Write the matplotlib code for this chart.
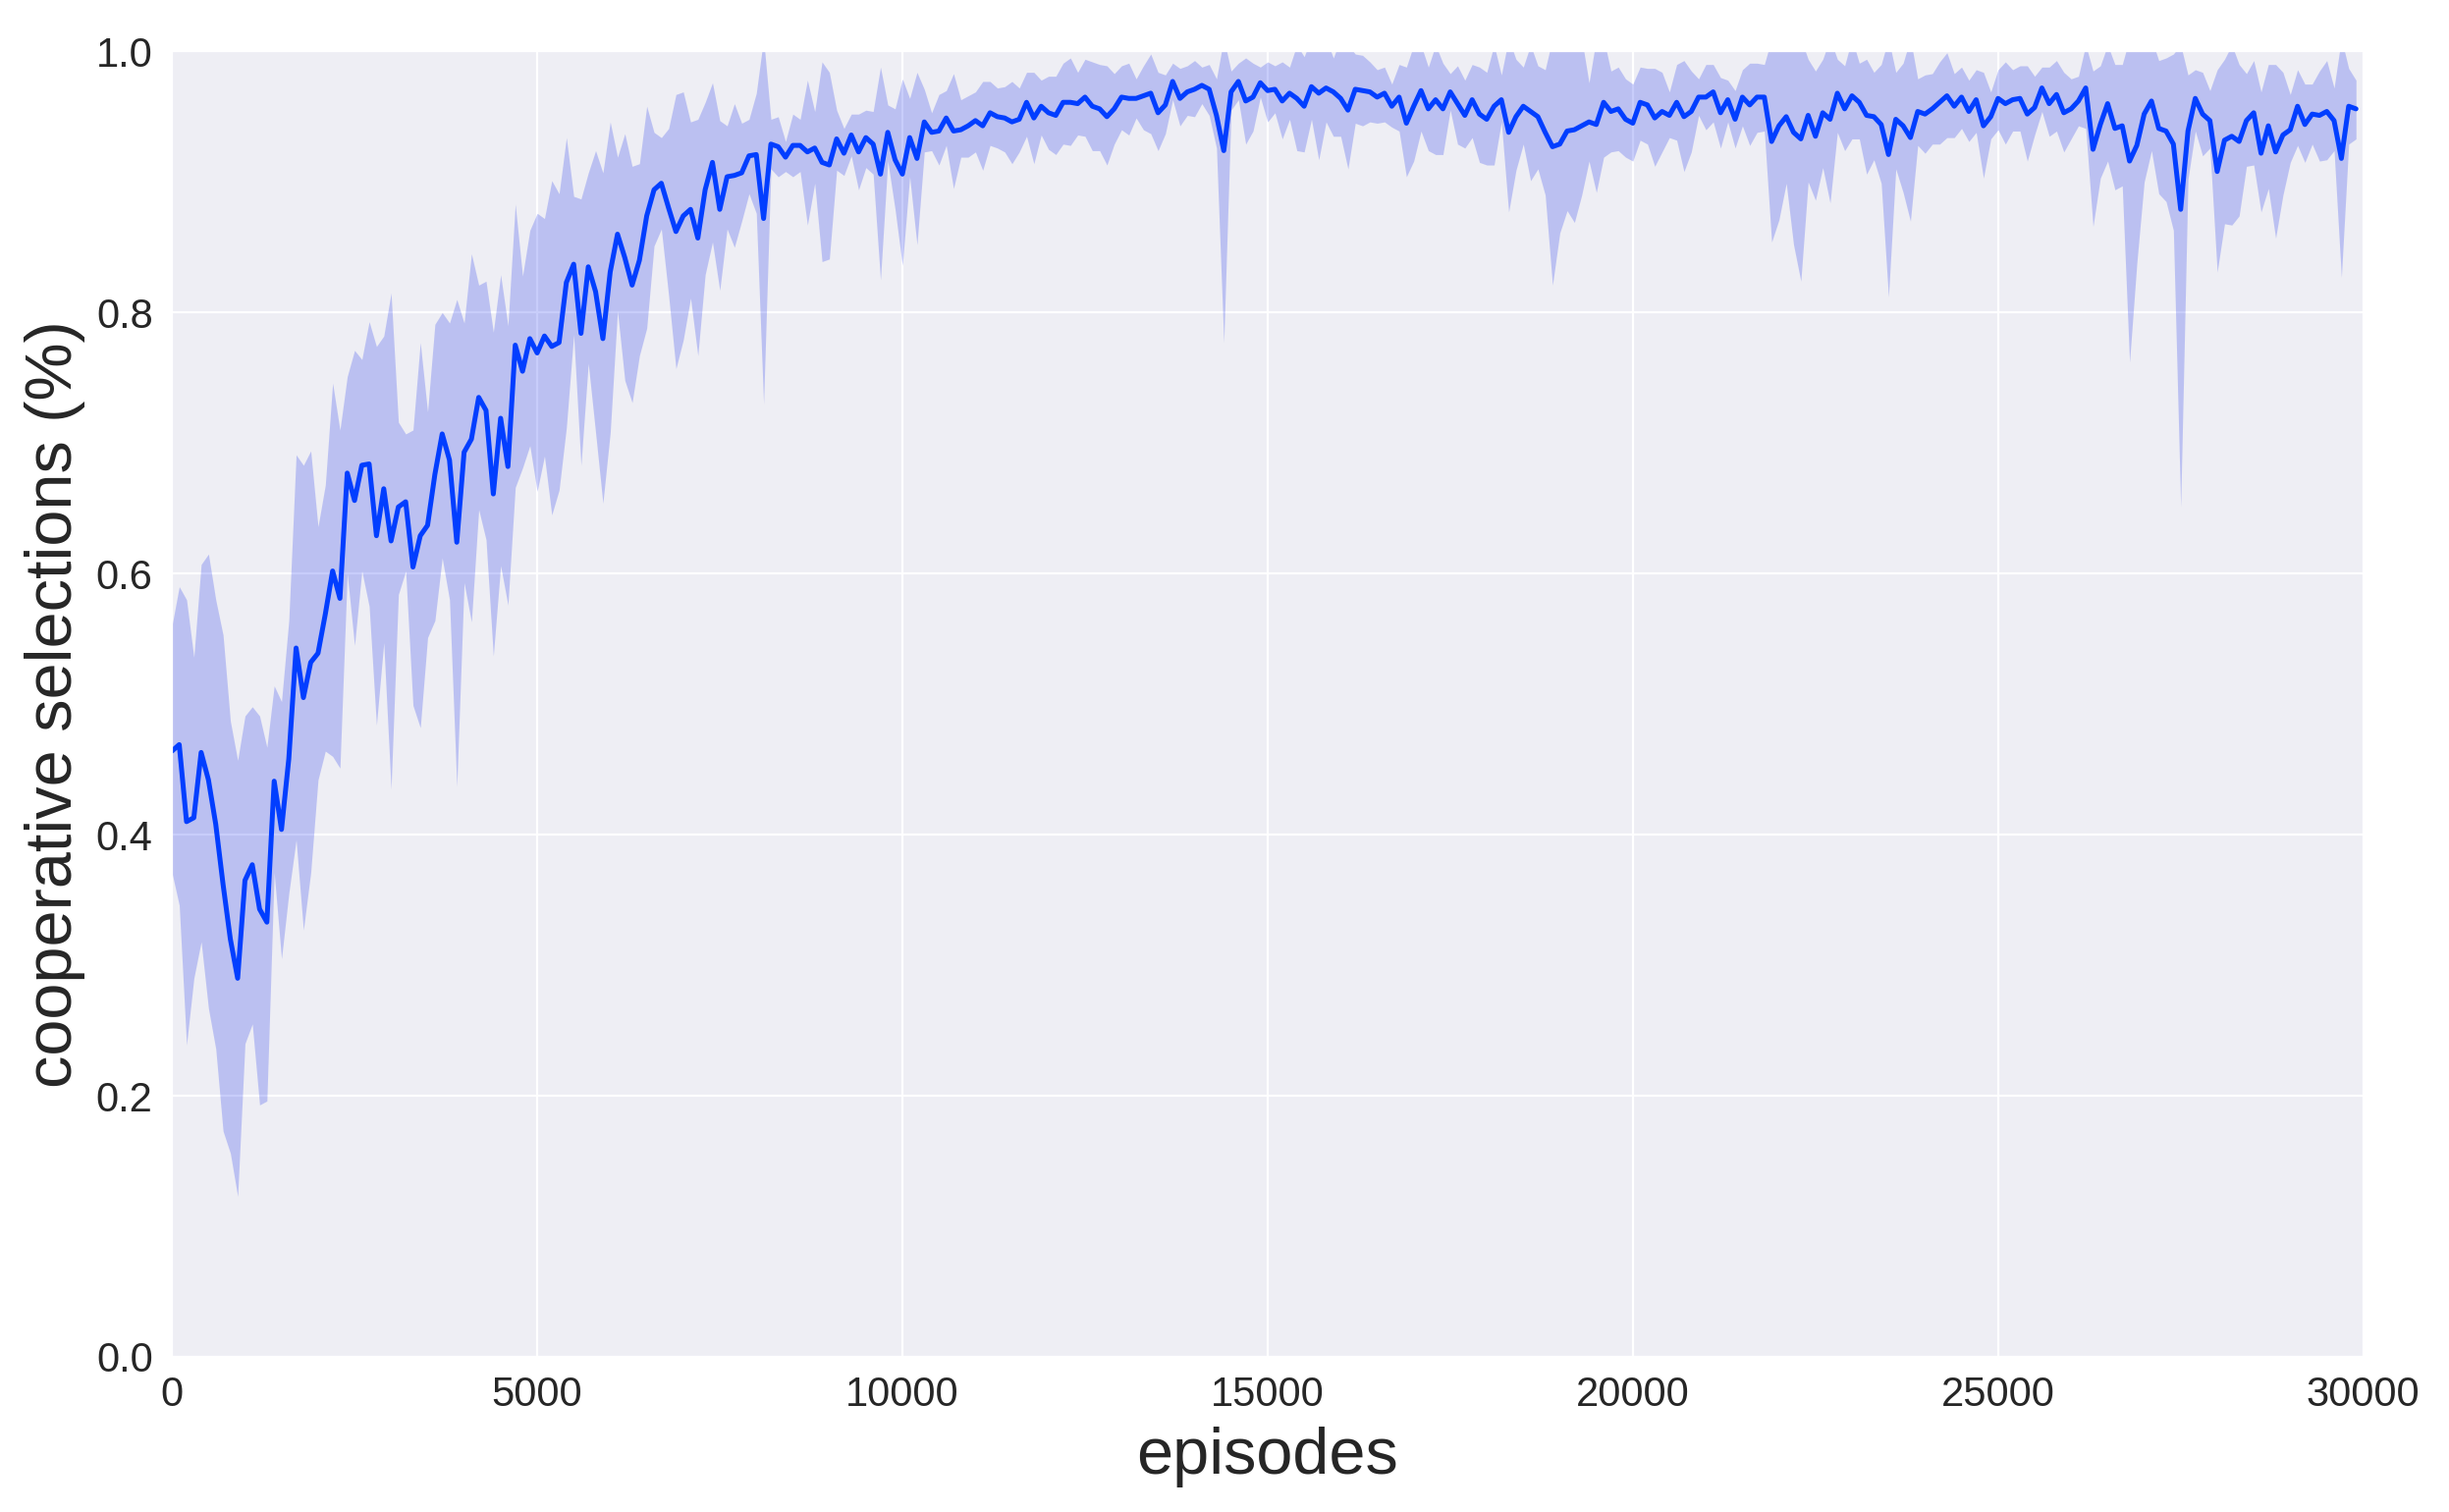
import numpy as np
import matplotlib
matplotlib.use('Agg')
import matplotlib.pyplot as plt
import seaborn as sns

# one point every 100 episodes
episodes = np.arange(0, 30000, 100)

mean_coop = [
    0.464, 0.469, 0.410, 0.413, 0.463, 0.442, 0.408, 0.362, 0.320, 0.290, 0.365, 0.377, 0.343, 0.333, 0.441, 0.404, 0.458, 0.543, 0.505, 0.532, 0.539, 0.569, 0.602, 0.581, 0.677,
    0.656, 0.683, 0.684, 0.629, 0.665, 0.625, 0.651, 0.655, 0.605, 0.629, 0.637, 0.676, 0.707, 0.687, 0.624, 0.693, 0.703, 0.735, 0.725, 0.661, 0.719, 0.682, 0.775, 0.755, 0.780,
    0.769, 0.782, 0.774, 0.777, 0.823, 0.837, 0.784, 0.835, 0.816, 0.780, 0.831, 0.860, 0.842, 0.821, 0.840, 0.874, 0.894, 0.899, 0.880, 0.862, 0.874, 0.879, 0.857, 0.894, 0.915,
    0.879, 0.904, 0.905, 0.907, 0.920, 0.921, 0.872, 0.929, 0.927, 0.919, 0.928, 0.928, 0.923, 0.926, 0.915, 0.913, 0.933, 0.922, 0.936, 0.923, 0.934, 0.929, 0.906, 0.938, 0.917,
    0.906, 0.934, 0.918, 0.946, 0.938, 0.939, 0.949, 0.939, 0.940, 0.943, 0.947, 0.943, 0.953, 0.950, 0.949, 0.946, 0.948, 0.961, 0.949, 0.958, 0.953, 0.951, 0.961, 0.961, 0.960,
    0.965, 0.958, 0.956, 0.950, 0.956, 0.965, 0.964, 0.964, 0.966, 0.968, 0.953, 0.959, 0.977, 0.964, 0.969, 0.971, 0.974, 0.971, 0.951, 0.924, 0.969, 0.977, 0.962, 0.965, 0.976,
    0.970, 0.971, 0.962, 0.968, 0.964, 0.958, 0.973, 0.968, 0.972, 0.969, 0.964, 0.955, 0.971, 0.970, 0.969, 0.965, 0.968, 0.958, 0.965, 0.945, 0.958, 0.970, 0.956, 0.963, 0.956,
    0.969, 0.960, 0.951, 0.963, 0.952, 0.948, 0.958, 0.963, 0.938, 0.950, 0.958, 0.954, 0.950, 0.938, 0.927, 0.929, 0.939, 0.940, 0.943, 0.946, 0.944, 0.961, 0.954, 0.956, 0.948,
    0.945, 0.961, 0.959, 0.949, 0.954, 0.951, 0.961, 0.950, 0.954, 0.965, 0.965, 0.969, 0.953, 0.963, 0.948, 0.965, 0.959, 0.965, 0.965, 0.931, 0.943, 0.950, 0.938, 0.933, 0.951,
    0.935, 0.953, 0.948, 0.968, 0.956, 0.966, 0.961, 0.951, 0.950, 0.944, 0.921, 0.948, 0.943, 0.934, 0.954, 0.952, 0.956, 0.961, 0.966, 0.958, 0.965, 0.954, 0.963, 0.943, 0.950,
    0.964, 0.960, 0.963, 0.964, 0.952, 0.957, 0.972, 0.960, 0.967, 0.953, 0.956, 0.962, 0.972, 0.925, 0.944, 0.960, 0.941, 0.943, 0.916, 0.928, 0.952, 0.962, 0.941, 0.939, 0.929,
    0.879, 0.939, 0.964, 0.952, 0.947, 0.908, 0.932, 0.935, 0.931, 0.947, 0.953, 0.922, 0.943, 0.923, 0.936, 0.940, 0.958, 0.944, 0.952, 0.951, 0.954, 0.947, 0.918, 0.958, 0.956,
]

upper_coop = [
    0.560, 0.590, 0.580, 0.536, 0.607, 0.615, 0.580, 0.553, 0.487, 0.457, 0.491, 0.498, 0.491, 0.467, 0.514, 0.502, 0.564, 0.691, 0.683, 0.694, 0.636, 0.668, 0.746, 0.710, 0.751,
    0.771, 0.764, 0.793, 0.774, 0.782, 0.815, 0.716, 0.707, 0.710, 0.777, 0.724, 0.791, 0.800, 0.792, 0.810, 0.792, 0.845, 0.821, 0.824, 0.785, 0.829, 0.790, 0.883, 0.828, 0.863,
    0.876, 0.872, 0.901, 0.891, 0.934, 0.889, 0.887, 0.907, 0.924, 0.907, 0.946, 0.919, 0.937, 0.912, 0.914, 0.958, 0.938, 0.934, 0.941, 0.967, 0.969, 0.946, 0.948, 0.961, 0.976,
    0.947, 0.943, 0.960, 0.945, 0.948, 0.968, 1.010, 0.948, 0.950, 0.931, 0.952, 0.948, 0.978, 0.954, 0.992, 0.984, 0.955, 0.941, 0.952, 0.952, 0.955, 0.954, 0.988, 0.959, 0.956,
    0.979, 0.964, 0.984, 0.971, 0.953, 0.967, 0.970, 0.983, 0.963, 0.966, 0.969, 0.977, 0.977, 0.972, 0.973, 0.977, 0.972, 0.984, 0.984, 0.978, 0.981, 0.981, 0.991, 0.995, 0.984,
    0.994, 0.992, 0.990, 0.989, 0.983, 0.989, 0.991, 0.979, 0.989, 0.998, 0.984, 0.982, 0.991, 0.987, 0.989, 0.993, 0.988, 0.990, 0.979, 1.010, 0.985, 0.991, 0.995, 0.991, 0.988,
    0.992, 0.989, 0.992, 0.988, 1.005, 0.996, 1.010, 1.010, 1.010, 0.995, 1.010, 1.005, 0.998, 0.997, 0.992, 0.986, 0.988, 0.975, 0.990, 0.988, 1.005, 1.005, 0.988, 1.005, 0.991,
    0.983, 0.989, 0.978, 0.990, 0.988, 0.984, 1.005, 0.982, 1.010, 0.994, 0.988, 1.005, 0.989, 0.986, 1.010, 1.010, 1.010, 1.010, 1.010, 0.976, 1.010, 1.010, 0.985, 0.988, 0.979,
    0.975, 0.988, 0.987, 0.987, 0.984, 0.969, 0.990, 0.993, 0.985, 0.979, 0.990, 0.990, 0.980, 0.978, 0.970, 0.986, 0.991, 0.991, 0.990, 1.010, 1.010, 1.010, 1.010, 1.010, 0.994,
    0.985, 0.994, 1.010, 0.994, 0.989, 1.010, 0.991, 0.994, 0.984, 0.990, 1.010, 0.984, 0.991, 1.010, 0.979, 0.982, 0.983, 0.992, 0.999, 0.983, 0.988, 0.978, 0.986, 0.984, 0.969,
    0.986, 0.992, 0.986, 0.989, 0.989, 0.981, 0.988, 0.988, 0.993, 0.984, 0.979, 0.981, 1.005, 0.985, 0.989, 1.005, 0.990, 0.990, 1.010, 1.010, 1.010, 1.010, 0.993, 0.995, 0.998,
    1.005, 0.982, 0.986, 0.984, 0.970, 0.986, 0.994, 1.005, 0.990, 0.983, 0.993, 0.969, 0.990, 0.990, 0.984, 0.967, 0.986, 0.975, 0.975, 0.985, 0.993, 0.972, 1.010, 0.987, 0.978,
]

lower_coop = [
    0.371, 0.346, 0.239, 0.290, 0.318, 0.267, 0.236, 0.173, 0.156, 0.123, 0.240, 0.255, 0.193, 0.196, 0.371, 0.305, 0.355, 0.396, 0.327, 0.371, 0.442, 0.464, 0.460, 0.451, 0.600,
    0.545, 0.602, 0.575, 0.484, 0.547, 0.435, 0.584, 0.602, 0.499, 0.482, 0.551, 0.564, 0.612, 0.580, 0.437, 0.593, 0.563, 0.649, 0.626, 0.537, 0.606, 0.576, 0.666, 0.681, 0.698,
    0.663, 0.690, 0.645, 0.664, 0.712, 0.783, 0.683, 0.761, 0.708, 0.654, 0.708, 0.801, 0.748, 0.731, 0.767, 0.788, 0.851, 0.864, 0.813, 0.757, 0.779, 0.811, 0.767, 0.829, 0.854,
    0.817, 0.864, 0.850, 0.870, 0.891, 0.876, 0.730, 0.910, 0.904, 0.908, 0.904, 0.908, 0.867, 0.899, 0.839, 0.841, 0.909, 0.905, 0.920, 0.894, 0.911, 0.906, 0.825, 0.916, 0.879,
    0.836, 0.904, 0.852, 0.923, 0.924, 0.913, 0.928, 0.895, 0.919, 0.919, 0.923, 0.909, 0.928, 0.926, 0.923, 0.914, 0.923, 0.935, 0.914, 0.936, 0.925, 0.921, 0.929, 0.928, 0.936,
    0.935, 0.924, 0.924, 0.913, 0.929, 0.940, 0.936, 0.949, 0.940, 0.937, 0.924, 0.937, 0.963, 0.943, 0.951, 0.950, 0.960, 0.951, 0.926, 0.777, 0.955, 0.963, 0.929, 0.939, 0.965,
    0.946, 0.953, 0.933, 0.948, 0.924, 0.923, 0.948, 0.917, 0.946, 0.935, 0.935, 0.910, 0.945, 0.943, 0.946, 0.945, 0.946, 0.942, 0.939, 0.904, 0.916, 0.939, 0.924, 0.921, 0.921,
    0.955, 0.929, 0.926, 0.934, 0.915, 0.913, 0.913, 0.946, 0.877, 0.909, 0.929, 0.901, 0.910, 0.890, 0.821, 0.861, 0.878, 0.869, 0.890, 0.916, 0.892, 0.919, 0.923, 0.924, 0.919,
    0.916, 0.932, 0.929, 0.912, 0.923, 0.934, 0.932, 0.908, 0.923, 0.951, 0.940, 0.946, 0.926, 0.946, 0.926, 0.943, 0.928, 0.938, 0.939, 0.854, 0.871, 0.899, 0.852, 0.824, 0.900,
    0.886, 0.911, 0.884, 0.938, 0.924, 0.933, 0.933, 0.906, 0.917, 0.899, 0.812, 0.910, 0.892, 0.870, 0.928, 0.922, 0.929, 0.929, 0.934, 0.934, 0.941, 0.931, 0.938, 0.903, 0.933,
    0.940, 0.929, 0.939, 0.939, 0.916, 0.936, 0.954, 0.935, 0.939, 0.923, 0.933, 0.943, 0.941, 0.866, 0.903, 0.916, 0.894, 0.897, 0.762, 0.838, 0.900, 0.924, 0.891, 0.885, 0.863,
    0.651, 0.902, 0.939, 0.920, 0.926, 0.831, 0.868, 0.867, 0.874, 0.912, 0.913, 0.877, 0.895, 0.857, 0.890, 0.915, 0.928, 0.915, 0.929, 0.916, 0.917, 0.924, 0.827, 0.929, 0.933,
]

x_ticks = [0, 5000, 10000, 15000, 20000, 25000, 30000]
y_ticks = [0.0, 0.2, 0.4, 0.6, 0.8, 1.0]

sns.set_style('darkgrid', {'axes.facecolor': '#eeeef4'})
plt.rcParams['font.family'] = ['Liberation Sans', 'DejaVu Sans']

line_color = '#023eff'
band_color = '#263aec'

fig, ax = plt.subplots(figsize=(12.47, 7.70), dpi=200)
fig.subplots_adjust(left=0.0702, right=0.965, top=0.966, bottom=0.1026)

ax.fill_between(episodes, lower_coop, upper_coop, color=band_color, alpha=0.25, linewidth=0)
ax.plot(episodes, mean_coop, color=line_color, linewidth=1.8)

ax.set_xlim(0, 30000)
ax.set_ylim(0, 1)
ax.set_xticks(x_ticks)
ax.set_yticks(y_ticks)
ax.tick_params(axis='both', labelsize=15, colors='#262626')
ax.set_xlabel('episodes', fontsize=24, color='#262626')
ax.set_ylabel('cooperative selections (%)', fontsize=24, color='#262626')

fig.savefig('out.png', dpi=200)
